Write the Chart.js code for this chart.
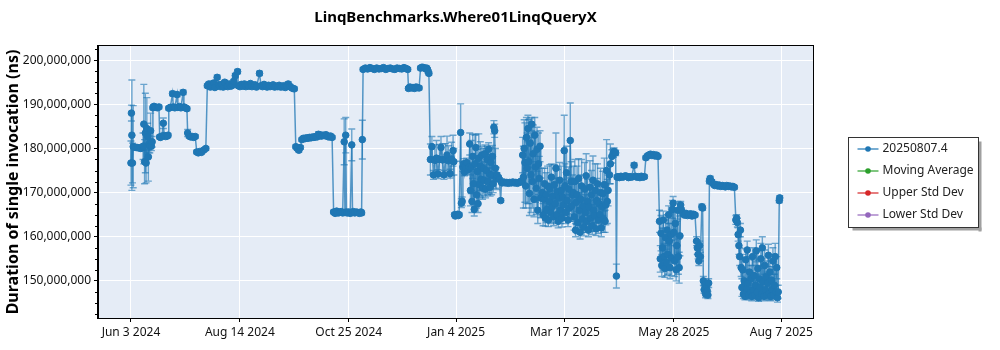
<!DOCTYPE html>
<html>
<head>
<meta charset="utf-8">
<title>LinqBenchmarks.Where01LinqQueryX</title>
<script src="https://cdn.jsdelivr.net/npm/chart.js@4/dist/chart.umd.min.js"></script>
<style>
    html, body { margin: 0; padding: 0; background: #fff; }
    #wrap { width: 1000px; height: 350px; }
</style>
</head>
<body>
<div id="wrap"><canvas id="benchmark-chart"></canvas></div>
<script>
// Run dates are stored as days since the first run (Jun 3 2024)
const DAY_MS = 24 * 60 * 60 * 1000;
const firstRun = Date.UTC(2024, 5, 3);

const runDay = [
    0, 0.3, 0.6, 1, 1.5, 2.5, 3.5, 4.5, 5.5, 6.5, 7.5,
    8, 8.5, 9, 9.5, 10, 10.5, 11, 11.5, 12, 12.5, 13, 13.5, 14,
    14.5, 15, 15.5, 16.5, 17.5, 18.5,
    19, 19.5, 20.5, 21.4, 22, 23, 24, 24.5,
    25, 26, 27.5, 28, 29, 30.5, 31, 32, 33, 34.5, 35, 36, 37,
    37.5, 38.5, 39.5, 40.5, 41.5, 42.5,
    43.5, 44.5, 45.5, 46.5, 48, 49.5,
    50.5, 51.5, 52.5, 53.5, 54.5, 55.5,
    57, 58, 59, 60, 61, 62, 63, 64, 65, 66, 67, 68, 69, 70.5,
    71, 72, 73, 74, 75, 76, 77, 78, 79, 80, 81, 82, 83,
    85, 86, 87, 88, 89, 90, 91, 92, 93, 94, 95, 96, 97, 98, 99, 100, 101, 102, 103, 104, 105, 106, 107, 108,
    109, 110, 111, 112,
    113, 114, 115, 116, 117, 118, 119, 120, 121, 122, 123, 124, 125, 126, 127, 128, 129, 130, 131, 132, 133,
    134, 135, 136, 137, 138, 139, 140, 141, 141.5, 142, 142.5, 143, 144, 145, 146, 146.5, 147, 148, 149, 150, 151, 152, 152.5, 153,
    153.5, 155, 156.5, 158, 159.5, 161, 162.5, 164, 165.5, 167, 168.5, 170, 171.5, 173, 174.5, 176, 177.5, 179, 180.5, 182, 183,
    183.5, 184.5, 185.5, 186.5, 187.5, 188.5, 189.5, 190.5,
    191.5, 192.5, 193.5, 194.5, 195.5, 196, 196.5, 197,
    198, 199, 200, 201, 202, 203, 204, 205, 206, 207, 208, 209, 210, 211, 212, 213, 213.5,
    214, 214.5, 215, 216, 216.5, 217, 218, 218.5, 219,
    219.5, 220, 220.5, 221, 221.5, 222, 223, 223.5,
    224, 224.5, 225, 225.5, 226, 226.5, 227, 227.5, 228, 228.5, 229, 229.5, 230, 230.5, 231, 231.5, 232, 232.5,
    233, 233.5, 234, 234.5, 235, 235.5, 236, 236.5, 237, 237.5, 238, 238.5, 239, 239.5, 240, 240.5, 241, 241.5,
    242, 243, 243.5, 244.5, 245,
    245.5, 246.5, 247.5, 248.5, 249.5, 250.5, 251.5, 252.5, 253.5, 254.5, 255.5, 256.5, 257.5, 258.5,
    259, 259.5, 260, 260.5, 261, 261.5, 262, 262.5, 263, 263.5, 264, 264.5, 265, 265.5, 266, 266.5, 267, 267.5,
    268, 268.5, 269, 269.5, 270, 270.5, 271,
    272, 272.5, 273, 273.5, 274, 274.5, 275, 275.5, 276, 276.5, 277, 277.5, 278, 278.5, 279, 279.5, 280, 280.5,
    281, 281.5, 282, 282.5, 283, 283.5, 284, 284.5, 285, 285.5, 286, 286.5, 287, 287.5, 288, 288.5, 289, 289.5,
    290, 290.5, 291, 291.5, 292,
    292.5, 293, 293.5, 294, 294.5, 295, 295.5, 296, 296.5, 297, 297.5, 298, 298.5, 299, 299.5, 300, 300.5, 301,
    301.5, 302, 302.5, 303, 303.5, 304, 304.5, 305, 305.5, 306, 306.5, 307, 307.5, 308, 308.5, 309, 309.5, 310,
    310.5, 311, 311.5, 312, 312.5, 313, 313.5, 314, 314.5, 315,
    315.5, 316.5, 317, 318, 319, 319.5, 320.5, 321,
    321.5, 322, 323, 324, 325, 326, 327, 328, 329, 330, 331, 332.7, 333.5, 334.5, 335.5, 336.5, 337.5, 338.5, 339.5,
    340.5, 341.5, 342.5, 343.5, 344.5, 345.5, 346.5, 347.5, 348.5,
    349.5, 350, 350.5, 351, 351.5, 352, 352.5, 353, 353.5, 354, 354.5, 355, 355.5, 356, 356.5, 357, 357.5, 358,
    358.5, 359, 359.5, 360, 360.5, 361, 361.5, 362, 362.5, 363,
    363.5, 364, 365, 366, 367, 368, 369, 370, 371, 372, 373, 374, 374.5, 375, 375.5, 376, 376.5, 377.5, 378,
    378.5, 379, 379.5, 380, 380.5, 381, 381.5, 382,
    382.5, 383, 384, 385, 386, 387, 388, 389, 390, 391, 392, 393, 394, 395, 396, 397, 398, 399,
    400, 400.5, 401, 401.5, 402, 402.5, 403, 403.5,
    404, 404.5, 405, 405.5, 406, 406.5, 407, 407.5, 408, 408.5, 409, 409.5, 410, 410.5, 411, 411.5, 412, 412.5,
    413, 413.5, 414, 414.5, 415, 415.5, 416, 416.5, 417, 417.5, 418, 418.5, 419, 419.5, 420, 420.5, 421, 421.5,
    422, 422.5, 423, 423.5, 424, 424.5, 425, 425.5, 426, 426.5, 427, 427.5, 428,
    428.7, 429
];

// Mean duration per run, in millions of ns
const durationM = [
    176.7, 188.0, 183.0, 176.7, 180.4, 180.3, 180.2, 180.2, 180.1, 180.0, 180.2,
    180.5, 185.5, 177.0, 183.5, 176.7, 184.5, 182.7, 178.1, 181.0, 180.5, 184.0, 180.5, 181.5,
    189.2, 189.5, 189.5, 189.3, 189.2, 189.4,
    182.6, 182.5, 182.8, 185.7, 182.9, 182.7, 182.8, 183.0,
    189.1, 189.3, 192.4, 189.4, 189.2, 192.2, 189.3, 189.5, 189.2, 192.7, 189.4, 189.2, 189.0,
    183.5, 182.8, 182.6, 182.7, 182.5, 182.7,
    179.2, 179.0, 179.3, 179.1, 179.6, 180.0,
    194.2, 194.6, 193.9, 194.3, 194.8, 193.8,
    196.1, 194.4, 194.0, 194.5, 193.9, 195.0, 194.2, 194.0, 194.6, 194.1, 194.3, 195.2, 196.5, 197.4,
    194.2, 194.0, 194.5, 194.1, 194.6, 194.0, 194.3, 194.1, 194.7, 194.0, 194.2, 194.4, 193.9,
    197.0, 194.2, 194.0, 194.5, 194.1, 193.9, 194.3, 194.0, 194.2, 194.4, 193.9, 194.1, 194.0, 194.3, 193.9, 194.0, 194.2, 193.8, 194.0, 194.6, 194.1, 193.8, 193.6, 193.5,
    180.4, 180.0, 179.6, 180.2,
    182.0, 182.3, 182.2, 182.4, 182.3, 182.5, 182.4, 182.6, 182.5, 182.7, 182.6, 183.2, 182.9, 182.8, 183.0, 182.9, 183.1, 182.7, 182.6, 182.8, 182.5,
    165.6, 165.3, 165.8, 165.4, 165.5, 165.7, 165.4, 181.5, 165.5, 183.0, 165.6, 165.4, 165.6, 165.3, 180.8, 165.5, 165.7, 165.4, 165.6, 165.5, 165.3, 165.6, 165.4, 182.0,
    197.9, 198.2, 198.0, 198.3, 198.1, 197.9, 198.2, 198.0, 198.1, 198.3, 197.9, 198.1, 198.2, 198.0, 197.9, 198.2, 198.1, 198.0, 198.3, 198.1, 197.9,
    193.6, 193.9, 193.7, 193.8, 193.6, 193.9, 193.8, 193.7,
    198.2, 198.4, 198.3, 198.1, 198.2, 197.9, 197.4, 197.0,
    177.5, 180.4, 174.0, 177.3, 177.8, 174.2, 177.5, 180.2, 177.4, 174.0, 177.6, 178.5, 177.2, 174.3, 177.6, 179.5, 177.0,
    165.0, 164.7, 164.9, 165.1, 164.8, 165.0, 183.6, 167.6, 168.0,
    175.8, 176.5, 174.6, 176.0, 175.5, 176.8, 175.2, 175.8,
    181.0, 170.5, 175.8, 168.0, 178.2, 172.0, 166.2, 176.5, 180.2, 169.5, 174.8, 167.5, 177.8, 171.8, 176.0, 173.0, 178.5, 171.0,
    175.5, 172.8, 178.8, 170.8, 175.0, 177.5, 172.5, 179.8, 174.2, 171.2, 176.8, 174.0, 178.2, 172.0, 184.8, 184.0, 175.5, 173.2,
    174.0, 173.4, 173.0, 168.2, 172.4,
    172.2, 172.4, 172.2, 172.3, 172.1, 172.3, 172.2, 172.4, 172.2, 172.3, 172.1, 172.3, 172.5, 172.4,
    178.5, 173.5, 180.0, 176.8, 171.5, 182.5, 175.5, 184.5, 177.0, 169.8, 181.2, 174.0, 185.5, 172.5, 178.8, 168.5, 183.0, 175.8,
    171.0, 179.8, 166.0, 176.5, 173.2, 180.5, 168.8,
    170.0, 165.0, 168.5, 172.0, 164.2, 169.5, 166.2, 171.5, 163.8, 168.0, 170.8, 165.5, 173.5, 166.8, 169.2, 164.5, 171.8, 167.5,
    175.5, 165.0, 170.2, 163.5, 168.8, 172.8, 166.0, 170.5, 164.2, 169.0, 167.2, 179.5, 171.5, 165.5, 174.5, 168.2, 163.8, 170.8,
    166.5, 181.8, 172.5, 167.0, 169.5,
    170.0, 164.5, 172.5, 161.5, 167.8, 169.5, 163.2, 173.2, 166.0, 161.0, 168.5, 171.5, 164.0, 167.0, 162.2, 170.8, 165.5, 173.8,
    163.5, 168.0, 161.5, 166.8, 171.2, 164.2, 169.5, 162.5, 172.8, 166.0, 164.8, 170.5, 161.8, 168.2, 172.0, 163.8, 167.5, 165.0,
    170.0, 162.0, 166.8, 169.8, 164.0, 171.8, 163.5, 167.2, 175.0, 168.0,
    170.5, 174.0, 176.5, 178.2, 179.0, 179.3, 179.0, 151.1,
    173.5, 173.6, 173.4, 173.7, 173.5, 173.6, 173.8, 173.6, 173.4, 173.6, 173.5, 176.2, 173.7, 173.5, 173.6, 173.4, 173.7, 173.5, 173.6,
    177.9, 178.3, 178.5, 178.7, 178.4, 178.6, 178.3, 178.5, 178.2,
    163.5, 155.0, 160.8, 153.5, 157.5, 163.8, 155.5, 152.8, 159.8, 154.2, 161.5, 156.0, 165.0, 159.0, 153.0, 160.5, 155.2, 166.2,
    167.6, 161.0, 154.5, 163.0, 152.5, 158.0, 166.0, 155.5, 153.0, 160.2,
    167.2, 166.0, 165.2, 164.9, 165.3, 164.8, 165.0, 165.2, 164.7, 165.1, 164.9, 159.0, 157.5, 156.0, 154.5, 158.0, 155.5, 166.8, 166.5,
    150.0, 148.0, 149.2, 147.0, 148.5, 147.8, 146.8, 149.5,
    172.6, 173.2, 172.5, 172.0, 171.6, 171.8, 171.5, 171.7, 171.4, 171.6, 171.5, 171.3, 171.6, 171.4, 171.5, 171.3, 171.4, 171.2,
    163.8, 164.2, 163.2, 160.5, 158.0, 155.5, 161.5, 153.0,
    148.5, 152.5, 147.0, 150.0, 146.5, 154.8, 148.2, 157.0, 149.5, 146.8, 152.0, 147.5, 150.5, 146.5, 155.5, 148.0, 151.2, 146.8,
    149.0, 156.8, 147.5, 152.8, 146.2, 150.5, 148.5, 155.0, 147.0, 157.5, 149.8, 146.5, 153.5, 148.0, 151.0, 146.8, 149.5, 155.8,
    147.2, 152.0, 146.5, 150.2, 148.0, 154.5, 146.8, 149.0, 155.5, 147.5, 153.0, 146.2, 147.5,
    168.2, 168.8
];

// Error bar half-width per run, in millions of ns
const errorM = [
    5, 1.8, 12.5, 4.5, 9.3, 0.5, 0.4, 0.4, 0.4, 0.4, 0.5,
    3, 9, 5, 9, 4.5, 7, 3, 5.5, 2, 1.5, 4, 1, 1.2,
    0.4, 0.4, 0.4, 0.4, 0.4, 0.4,
    0.4, 0.4, 0.4, 1.2, 0.4, 0.4, 0.4, 0.4,
    0.4, 0.4, 0.5, 0.4, 0.4, 0.5, 0.4, 0.4, 0.4, 0.5, 0.4, 0.4, 0.4,
    0.8, 0.4, 0.4, 0.4, 0.4, 0.4,
    0.4, 0.4, 0.4, 0.4, 0.4, 0.4,
    0.4, 0.4, 0.4, 0.4, 0.4, 0.4,
    0.5, 0.4, 0.4, 0.4, 0.4, 0.4, 0.4, 0.4, 0.4, 0.4, 0.4, 0.4, 0.5, 0.5,
    0.4, 0.4, 0.4, 0.4, 0.4, 0.4, 0.4, 0.4, 0.4, 0.4, 0.4, 0.4, 0.4,
    0.5, 0.4, 0.4, 0.4, 0.4, 0.4, 0.4, 0.4, 0.4, 0.4, 0.4, 0.4, 0.4, 0.4, 0.4, 0.4, 0.4, 0.4, 0.4, 0.5, 0.4, 0.4, 0.4, 0.4,
    0.4, 0.4, 0.4, 0.4,
    0.4, 0.4, 0.4, 0.4, 0.4, 0.4, 0.4, 0.4, 0.4, 0.4, 0.4, 0.6, 0.4, 0.4, 0.6, 0.4, 0.4, 0.4, 0.4, 0.4, 0.4,
    0.4, 0.4, 0.4, 0.4, 0.4, 0.4, 0.4, 5.2, 0.4, 4.0, 0.4, 0.4, 0.4, 0.4, 3.6, 0.4, 0.4, 0.4, 0.4, 0.4, 0.4, 0.4, 0.4, 4.4,
    0.4, 0.4, 0.4, 0.4, 0.4, 0.4, 0.4, 0.4, 0.4, 0.4, 0.4, 0.4, 0.4, 0.4, 0.4, 0.4, 0.4, 0.4, 0.4, 0.4, 0.4,
    0.4, 0.4, 0.4, 0.4, 0.4, 0.4, 0.4, 0.4,
    0.4, 0.4, 0.4, 0.4, 0.4, 0.4, 0.4, 0.4,
    3.5, 2.3, 1.0, 3.5, 4.0, 1.0, 3.4, 2.5, 3.6, 1.0, 3.5, 4.3, 3.4, 1.0, 3.8, 3.5, 3.0,
    0.4, 0.4, 0.4, 0.4, 0.4, 0.4, 6.5, 1.0, 1.0,
    1, 1.2, 0.8, 1, 1, 1, 1, 1,
    2.5, 3.5, 6, 2.5, 5, 4.5, 1.5, 6.5, 3, 3, 5, 2, 5.5, 3, 5.5, 4, 2, 2.5,
    4.5, 3.5, 2, 2, 5, 3, 3, 1.5, 4.5, 2, 3.5, 4.5, 2.5, 2, 1.5, 1.5, 4.5, 2.5,
    0.5, 0.5, 0.4, 0.4, 0.4,
    0.4, 0.4, 0.4, 0.4, 0.4, 0.4, 0.4, 0.4, 0.4, 0.4, 0.4, 0.4, 0.4, 0.4,
    4, 7, 6.5, 9, 5, 4.5, 8, 3, 9.5, 5, 5.5, 8.5, 1.5, 6, 6.5, 4, 4, 8,
    6, 5, 3, 7, 5, 3.5, 4.5,
    5.5, 2.5, 4, 3.5, 1.8, 5, 3, 4.5, 1.5, 4, 5.5, 2.5, 3, 3.5, 4, 2, 4.5, 3.5,
    8, 2, 5, 1.5, 4.5, 4, 3, 5.5, 2, 4, 3.5, 8, 5, 2.5, 6, 4, 1.5, 5,
    3, 8.5, 4.5, 3.5, 4.5,
    6, 3, 5, 1.5, 5, 6.5, 2.5, 4.5, 4, 1.5, 5.5, 6, 3, 4.5, 2, 6, 4, 5,
    2.5, 5, 1.5, 4.5, 6, 3, 5.5, 2, 5.5, 4, 3.5, 6, 1.5, 5, 4.5, 3, 4.5, 3.5,
    5.5, 2, 4.5, 5, 3, 6, 2.5, 4.5, 7, 5,
    3.5, 2, 4.5, 1.5, 1, 0.8, 0.6, 2.7,
    0.4, 0.4, 0.4, 0.4, 0.4, 0.4, 0.4, 0.4, 0.4, 0.4, 0.4, 0.5, 0.4, 0.4, 0.4, 0.4, 0.4, 0.4, 0.4,
    0.4, 0.4, 0.4, 0.4, 0.4, 0.4, 0.4, 0.4, 0.4,
    2.5, 3, 4, 2.5, 4.5, 2, 3, 2, 4, 3, 3.5, 4.5, 2, 4, 2.5, 5, 4, 2,
    1.5, 5, 3.5, 3, 2.5, 5.5, 2, 4, 3.5, 4.5,
    0.8, 0.6, 0.4, 0.4, 0.4, 0.4, 0.4, 0.4, 0.4, 0.4, 0.4, 1, 1.5, 1, 1, 1, 1, 0.6, 0.5,
    1, 0.8, 1.2, 0.8, 1, 1, 0.8, 1,
    0.6, 0.5, 0.4, 0.4, 0.4, 0.4, 0.4, 0.4, 0.4, 0.4, 0.4, 0.4, 0.4, 0.4, 0.4, 0.4, 0.4, 0.4,
    1, 0.8, 1, 1.5, 2, 2, 1.5, 2,
    2, 3.5, 1, 2.5, 0.8, 2.5, 1.5, 2, 2.5, 1, 3.5, 1.5, 3, 1, 2, 2, 3.5, 1,
    2.5, 2.5, 1.5, 4, 0.8, 3, 2, 3.5, 1, 2.5, 3, 1, 3.5, 2, 3.5, 1, 2.5, 2.5,
    1.5, 4, 1, 3, 2, 3, 1, 2.5, 3, 1.5, 2.5, 1, 1.5,
    0.5, 0.5
];

// Axis ticks
const tickDates = ['2024-06-03', '2024-08-14', '2024-10-25', '2025-01-04', '2025-03-17', '2025-05-28', '2025-08-07'];
const tickLabels = ['Jun 3 2024', 'Aug 14 2024', 'Oct 25 2024', 'Jan 4 2025', 'Mar 17 2025', 'May 28 2025', 'Aug 7 2025'];
const yTicks = [150000000, 160000000, 170000000, 180000000, 190000000, 200000000];
const yMinorStep = 2500000;

// Series shown in the legend
const seriesNames = ['20250807.4', 'Moving Average', 'Upper Std Dev', 'Lower Std Dev'];
const seriesColors = ['#1f77b4', '#2ca02c', '#d62728', '#9467bd'];

const xMin = firstRun - 21.8 * DAY_MS;
const xMax = firstRun + 451 * DAY_MS;
const yMin = 141600000;
const yMax = 203200000;

Chart.defaults.font.family = '"Noto Sans", sans-serif';
Chart.defaults.color = '#111';

function runTime(i) {
    return firstRun + runDay[i] * DAY_MS;
}

// Light background, frame, minor ticks and the boxed legend
const plotDecor = {
    id: 'plotDecor',
    beforeDraw(chart) {
        const { ctx, chartArea: a } = chart;
        ctx.save();
        ctx.fillStyle = '#e5ecf6';
        ctx.fillRect(a.left, a.top, a.right - a.left, a.bottom - a.top);
        ctx.restore();
    },
    afterDraw(chart) {
        const { ctx, chartArea: a, scales } = chart;
        ctx.save();

        ctx.strokeStyle = '#000';
        ctx.lineWidth = 1;
        ctx.strokeRect(a.left - 0.5, a.top - 0.5, a.right - a.left + 1, a.bottom - a.top + 1);

        // minor ticks on the value axis
        ctx.beginPath();
        for (let v = Math.ceil(yMin / yMinorStep) * yMinorStep; v <= yMax; v += yMinorStep) {
            if (yTicks.includes(v)) continue;
            const py = Math.round(scales.y.getPixelForValue(v)) + 0.5;
            ctx.moveTo(a.left - 3, py);
            ctx.lineTo(a.left, py);
        }
        ctx.stroke();

        // legend
        const boxW = 130, boxH = 90;
        const left = Math.round(a.right + 35) + 0.5;
        const top = Math.round((a.top + a.bottom) / 2 - boxH / 2) + 0.5;
        ctx.fillStyle = '#a0a0a0';
        ctx.fillRect(left + boxW, top + 4, 3, boxH);
        ctx.fillRect(left + 4, top + boxH, boxW - 1, 3);
        ctx.fillStyle = '#fff';
        ctx.fillRect(left, top, boxW, boxH);
        ctx.strokeStyle = '#333';
        ctx.strokeRect(left, top, boxW, boxH);

        ctx.font = '12px "Noto Sans", sans-serif';
        ctx.textBaseline = 'middle';
        chart.data.datasets.forEach((ds, i) => {
            const cy = top + 11.5 + i * 22;
            ctx.strokeStyle = ds.pointBorderColor;
            ctx.lineWidth = 1.2;
            ctx.beginPath();
            ctx.moveTo(left + 9, cy);
            ctx.lineTo(left + 30, cy);
            ctx.stroke();
            ctx.fillStyle = ds.pointBackgroundColor;
            ctx.beginPath();
            ctx.arc(left + 19.5, cy, 2.8, 0, Math.PI * 2);
            ctx.fill();
            ctx.fillStyle = '#222';
            ctx.fillText(ds.label, left + 34, cy);
        });
        ctx.restore();
    }
};

// Error bars with caps for every run
const errorBars = {
    id: 'errorBars',
    beforeDatasetsDraw(chart) {
        const { ctx, scales: { x, y } } = chart;
        ctx.save();
        ctx.strokeStyle = 'rgba(31, 119, 180, 0.62)';
        ctx.lineWidth = 1.4;
        runDay.forEach((d, i) => {
            const px = x.getPixelForValue(runTime(i));
            const hi = y.getPixelForValue((durationM[i] + errorM[i]) * 1e6);
            const lo = y.getPixelForValue((durationM[i] - errorM[i]) * 1e6);
            ctx.beginPath();
            ctx.moveTo(px, hi);
            ctx.lineTo(px, lo);
            ctx.moveTo(px - 3.5, hi);
            ctx.lineTo(px + 3.5, hi);
            ctx.moveTo(px - 3.5, lo);
            ctx.lineTo(px + 3.5, lo);
            ctx.stroke();
        });
        ctx.restore();
    }
};

const points = runDay.map((d, i) => ({ x: runTime(i), y: durationM[i] * 1e6 }));

const datasets = seriesNames.map((name, i) => ({
    label: name,
    data: i === 0 ? points : [],
    borderColor: i === 0 ? 'rgba(31, 119, 180, 0.75)' : seriesColors[i],
    borderWidth: 1.5,
    pointRadius: 3.3,
    pointBorderWidth: 1,
    pointBackgroundColor: seriesColors[i],
    pointBorderColor: seriesColors[i],
    tension: 0
}));

const ctx = document.getElementById('benchmark-chart').getContext('2d');
const benchmarkChart = new Chart(ctx, {
    type: 'line',
    data: { datasets: datasets },
    options: {
        responsive: true,
        maintainAspectRatio: false,
        animation: false,
        layout: { padding: { left: 4, right: 187, top: 0, bottom: 0 } },
        plugins: {
            legend: { display: false },
            tooltip: { enabled: false },
            title: {
                display: true,
                text: 'LinqBenchmarks.Where01LinqQueryX',
                fullSize: false,
                color: '#000',
                font: { size: 15, weight: 'bold' },
                padding: { top: 9, bottom: 19 }
            }
        },
        scales: {
            x: {
                type: 'linear',
                min: xMin,
                max: xMax,
                afterBuildTicks: scale => {
                    scale.ticks = tickDates.map(s => ({ value: Date.parse(s + 'T00:00:00Z') }));
                },
                afterFit: scale => { scale.height = 32; },
                ticks: {
                    callback: (value, index) => tickLabels[index],
                    font: { size: 12 },
                    padding: 3,
                    maxRotation: 0,
                    autoSkip: false
                },
                grid: { color: '#fff', lineWidth: 1, tickColor: '#000', tickLength: 4 },
                border: { display: true, color: '#000', width: 1 }
            },
            y: {
                min: yMin,
                max: yMax,
                afterBuildTicks: scale => {
                    scale.ticks = yTicks.map(v => ({ value: v }));
                },
                afterFit: scale => { scale.width = 94; },
                ticks: {
                    callback: value => value.toLocaleString('en-US'),
                    font: { size: 12 },
                    padding: 3
                },
                grid: { color: '#fff', lineWidth: 1, tickColor: '#000', tickLength: 4 },
                border: { display: true, color: '#000', width: 1 },
                title: {
                    display: true,
                    text: 'Duration of single invocation (ns)',
                    color: '#000',
                    font: { size: 16, weight: 'bold' },
                    padding: { top: 0, bottom: 2 }
                }
            }
        }
    },
    plugins: [plotDecor, errorBars]
});
</script>
</body>
</html>
